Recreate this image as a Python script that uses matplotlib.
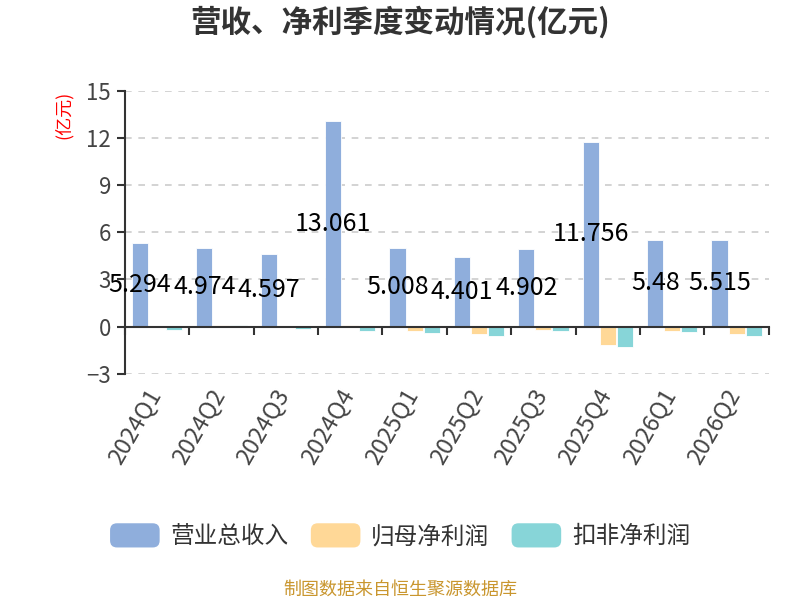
import matplotlib.pyplot as plt
from matplotlib.patches import Patch, FancyBboxPatch
from matplotlib.legend_handler import HandlerPatch
from matplotlib.transforms import blended_transform_factory, ScaledTranslation
import numpy as np

plt.rcParams['font.family'] = ['Noto Sans CJK SC', 'DejaVu Sans']

quarters = ["2024Q1", "2024Q2", "2024Q3", "2024Q4", "2025Q1",
            "2025Q2", "2025Q3", "2025Q4", "2026Q1", "2026Q2"]
revenue = [5.294, 4.974, 4.597, 13.061, 5.008, 4.401, 4.902, 11.756, 5.48, 5.515]
net_profit = [-0.04, 0.08, -0.03, 0.07, -0.25, -0.5, -0.19, -1.2, -0.28, -0.5]
deducted_profit = [-0.23, 0.07, -0.13, -0.3, -0.4, -0.57, -0.3, -1.29, -0.36, -0.57]

series_names = ["营业总收入", "归母净利润", "扣非净利润"]
colors = ["#8FAEDC", "#FFD897", "#87D5D8"]

fig = plt.figure(figsize=(8, 6), dpi=100)
ax = fig.add_axes([0.156, 0.377, 0.805, 0.472])

x = np.arange(len(quarters))
w = 0.25
offsets = [-0.265, 0, 0.265]
for vals, off, c in zip([revenue, net_profit, deducted_profit], offsets, colors):
    ax.bar(x + off, vals, width=w, color=c, edgecolor="white", linewidth=0.6, zorder=3)

# value labels sit on the revenue bar, at half its height
for xi, v in zip(x, revenue):
    ax.text(xi + offsets[0], v / 2, f"{v:g}", ha="center", va="center", fontsize=18,
            color="black", zorder=5)

ax.set_xlim(-0.5, len(quarters) - 0.5)
ax.set_ylim(-3, 15)
ax.set_yticks(np.arange(-3, 16, 3))
ax.grid(axis="y", color="#cccccc", linestyle=(0, (4, 4)), linewidth=1.2, zorder=0)
ax.set_axisbelow(True)

for s in ["top", "right"]:
    ax.spines[s].set_visible(False)
ax.spines["left"].set_color("#333333")
ax.spines["left"].set_linewidth(1.5)
ax.spines["bottom"].set_position(("data", 0))
ax.spines["bottom"].set_color("#333333")
ax.spines["bottom"].set_linewidth(1.5)
ax.spines["bottom"].set_zorder(4)

ax.set_xticks(np.arange(-0.5, len(quarters), 1.0))
ax.set_xticklabels([])
ax.tick_params(axis="x", length=6, width=1.5, color="#333333")
ax.tick_params(axis="y", length=6, width=1.5, color="#333333",
               labelsize=16, labelcolor="#444444", pad=4)

trans = blended_transform_factory(ax.transData, ax.transAxes) + \
    ScaledTranslation(4 / 100, -20 / 100, fig.dpi_scale_trans)
for xi, q in zip(x, quarters):
    ax.text(xi, 0, q, transform=trans, rotation=60, rotation_mode="anchor",
            ha="right", va="baseline", fontsize=17, color="#444444")

ax.text(-0.095, 0.914, "(亿元)", transform=ax.transAxes, rotation=90,
        ha="center", va="center", fontsize=13, color="red")

fig.text(0.5, 0.962, "营收、净利季度变动情况(亿元)", ha="center", va="center",
         fontsize=22, fontweight="bold", color="#333333")
fig.text(0.5, 0.017, "制图数据来自恒生聚源数据库", ha="center", va="center",
         fontsize=13, color="#C9962E")


def rounded_box(legend, orig_handle, xdescent, ydescent, width, height, fontsize):
    return FancyBboxPatch((-xdescent, -ydescent), width, height,
                          boxstyle="round,pad=0,rounding_size=5")


handles = [Patch(facecolor=c, edgecolor="none", label=n) for c, n in zip(colors, series_names)]
fig.legend(handles=handles, loc="center", bbox_to_anchor=(0.5, 0.107), ncol=3,
           frameon=False, fontsize=17, handlelength=2.1, handleheight=1.2,
           handletextpad=0.45, columnspacing=0.95, labelcolor="#333333",
           handler_map={Patch: HandlerPatch(patch_func=rounded_box)})

fig.savefig("out.png", dpi=100)
